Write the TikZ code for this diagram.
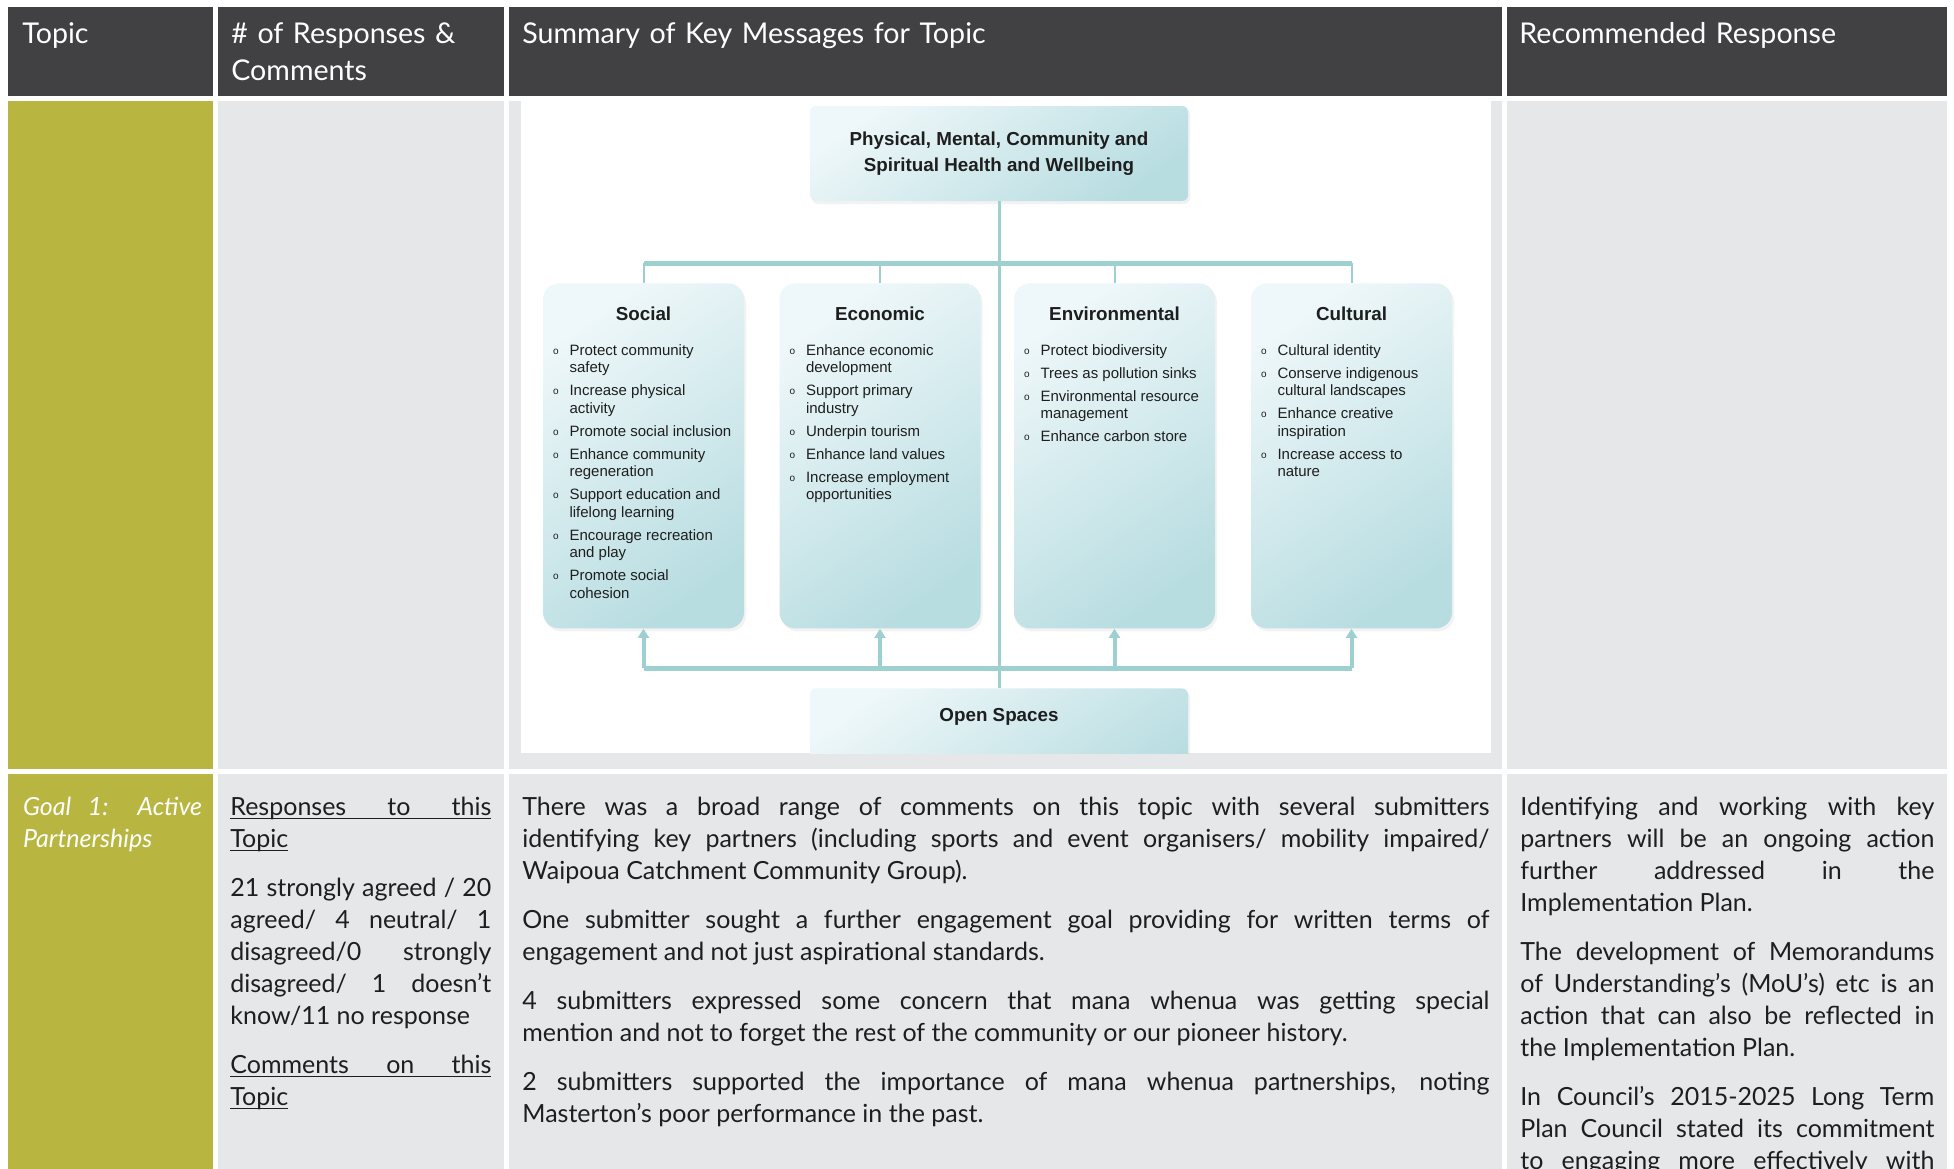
\documentclass[tikz,border=0pt]{standalone}
\usepackage{fontspec}
\setmainfont{Lato}
\newfontfamily\diagfont{Liberation Sans}
\usetikzlibrary{arrows.meta,shadows}

\definecolor{headgray}{RGB}{65,64,66}
\definecolor{goalgreen}{RGB}{184,182,65}
\definecolor{cellgray}{RGB}{230,231,232}
\definecolor{linkteal}{RGB}{158,208,210}
\definecolor{boxlight}{RGB}{238,247,249}
\definecolor{boxdark}{RGB}{184,221,225}
\definecolor{ink}{RGB}{30,30,30}

\newcommand\pskip{\par\vspace{8.5pt}}
\newcommand\ulfull[1]{\makebox[0pt][l]{\rule[-2.2pt]{\linewidth}{0.7pt}}\makebox[\linewidth][s]{#1}}
\newcommand\ulword[1]{\setbox0\hbox{#1}\makebox[0pt][l]{\rule[-2.2pt]{\wd0}{0.7pt}}\box0}
\newcommand\catitem[1]{\par\noindent\hangindent=8.25pt\hangafter=1\makebox[8.25pt][l]{\raisebox{0.6pt}{\fontsize{5}{5}\selectfont o}}#1}
\newcommand\catbody[2]{\parbox[b][172.5pt][t]{90.5pt}{\fontsize{7.5}{8.75}\selectfont\parskip=2.75pt
  \centering\rule{0pt}{18.5pt}{\fontsize{9.4}{8.75}\selectfont\bfseries #1}\par
  \vspace{6pt}\raggedright #2}}

\tikzset{
  headtext/.style={anchor=base west, inner sep=0pt, text=white, align=left,
    font=\fontsize{14.3}{18.5}\selectfont},
  bodytext/.style={anchor=base west, inner sep=0pt, text=ink, align=justify,
    font=\fontsize{12.5}{16}\selectfont},
  topbox/.style={rounded corners=3pt, top color=boxlight, bottom color=boxdark, shading angle=35,
    minimum width=189pt, minimum height=47.5pt, align=center, text=ink,
    font=\diagfont\bfseries\fontsize{9.4}{13}\selectfont,
    drop shadow={opacity=0.10, shadow xshift=1pt, shadow yshift=-1.5pt}},
  catbox/.style={anchor=north, rounded corners=8pt, top color=boxlight, bottom color=boxdark, shading angle=35,
    inner xsep=5pt, inner ysep=0pt, minimum width=100.5pt, text=ink, font=\diagfont,
    drop shadow={opacity=0.10, shadow xshift=1pt, shadow yshift=-1.5pt}},
  link/.style={draw=linkteal, line width=2.5pt},
  stub/.style={draw=linkteal, line width=1pt},
  uparrow/.style={draw=linkteal, line width=2pt, -{Triangle[width=5.5pt,length=4.5pt]}},
}

\begin{document}
\begin{tikzpicture}[x=0.5pt,y=-0.5pt]
\useasboundingbox (0,0) rectangle (1954,1168);
\clip (0,0) rectangle (1954,1168);

% header row
\fill[headgray] (7.5,7) rectangle (213,96);
\fill[headgray] (218,7) rectangle (503.5,96);
\fill[headgray] (508.5,7) rectangle (1502,96);
\fill[headgray] (1507,7) rectangle (1947,96);

% row with the diagram
\fill[goalgreen] (7.5,101) rectangle (213,769);
\fill[cellgray] (218,101) rectangle (503.5,769);
\fill[cellgray] (508.5,101) rectangle (1502,769);
\fill[cellgray] (1507,101) rectangle (1947,769);
\fill[white] (521,101) rectangle (1491,753);

% row of goal 1
\fill[goalgreen] (7.5,774) rectangle (213,1180);
\fill[cellgray] (218,774) rectangle (503.5,1180);
\fill[cellgray] (508.5,774) rectangle (1502,1180);
\fill[cellgray] (1507,774) rectangle (1947,1180);

% diagram
\begin{scope}
\clip (521,101) rectangle (1491,753);
\node[topbox] (health) at (999,153.5) {Physical, Mental, Community and\\Spiritual Health and Wellbeing};

\node[catbox] (social) at (643.5,283) {\catbody{Social}{%
  \catitem{Protect community\newline safety}
  \catitem{Increase physical\newline activity}
  \catitem{Promote social inclusion}
  \catitem{Enhance community\newline regeneration}
  \catitem{Support education and\newline lifelong learning}
  \catitem{Encourage recreation\newline and play}
  \catitem{Promote social\newline cohesion}}};
\node[catbox] (economic) at (880,283) {\catbody{Economic}{%
  \catitem{Enhance economic\newline development}
  \catitem{Support primary\newline industry}
  \catitem{Underpin tourism}
  \catitem{Enhance land values}
  \catitem{Increase employment\newline opportunities}}};
\node[catbox] (environmental) at (1114.5,283) {\catbody{Environmental}{%
  \catitem{Protect biodiversity}
  \catitem{Trees as pollution sinks}
  \catitem{Environmental resource\newline management}
  \catitem{Enhance carbon store}}};
\node[catbox] (cultural) at (1351.5,283) {\catbody{Cultural}{%
  \catitem{Cultural identity}
  \catitem{Conserve indigenous\newline cultural landscapes}
  \catitem{Enhance creative\newline inspiration}
  \catitem{Increase access to\newline nature}}};

\node[topbox, anchor=north, inner ysep=0pt, text height=16.5pt, text depth=40pt] (open) at (999,688) {Open Spaces};

\coordinate (upbar) at (999,263);
\coordinate (lowbar) at (999,668);

\draw[link, line width=1.5pt] (health.south) -- (open.north);
\draw[link] (social.north |- upbar) -- (cultural.north |- upbar);
\draw[stub] (social.north |- upbar) -- (social.north);
\draw[stub] (economic.north |- upbar) -- (economic.north);
\draw[stub] (environmental.north |- upbar) -- (environmental.north);
\draw[stub] (cultural.north |- upbar) -- (cultural.north);

\draw[link] (social.south |- lowbar) -- (cultural.south |- lowbar);
\draw[uparrow] (social.south |- lowbar) -- (social.south);
\draw[uparrow] (economic.south |- lowbar) -- (economic.south);
\draw[uparrow] (environmental.south |- lowbar) -- (environmental.south);
\draw[uparrow] (cultural.south |- lowbar) -- (cultural.south);
\end{scope}

% header texts
\node[headtext, text width=90pt] (hdtopic) at (22,43) {Topic};
\node[headtext, text width=140pt] (hdcount) at (231,43) {\# of Responses \&\\Comments};
\node[headtext, text width=480pt] (hdsummary) at (522,43) {Summary of Key Messages for Topic};
\node[headtext, text width=210pt] (hdresponse) at (1519,43) {Recommended Response};

% goal 1 texts
\node[bodytext, text=white, font=\fontsize{12.5}{16}\selectfont\itshape, text width=89.5pt] (goal) at (22.7,815)
  {Goal 1: Active\linebreak Partnerships};
\node[bodytext, text width=130.5pt] (counts) at (230,815)
  {\noindent\ulfull{Responses to this}\\\ulword{Topic}\pskip
   21 strongly agreed / 20\linebreak agreed/ 4 neutral/ 1\linebreak disagreed/0 strongly\linebreak
   disagreed/ 1 doesn’t\linebreak know/11 no response\pskip
   \noindent\ulfull{Comments on this}\\\ulword{Topic}};
\node[bodytext, text width=483.5pt] (summary) at (522,815)
  {There was a broad range of comments on this topic with several submitters\linebreak
   identifying key partners (including sports and event organisers/ mobility impaired/\linebreak
   Waipoua Catchment Community Group).\pskip
   One submitter sought a further engagement goal providing for written terms of\linebreak
   engagement and not just aspirational standards.\pskip
   4 submitters expressed some concern that mana whenua was getting special\linebreak
   mention and not to forget the rest of the community or our pioneer history.\pskip
   2 submitters supported the importance of mana whenua partnerships, noting\linebreak
   Masterton’s poor performance in the past.};
\node[bodytext, text width=207pt] (response) at (1520,815)
  {Identifying and working with key\linebreak partners will be an ongoing action\linebreak
   further addressed in the\linebreak Implementation Plan.\pskip
   The development of Memorandums\linebreak of Understanding’s (MoU’s) etc is an\linebreak
   action that can also be reflected in\linebreak the Implementation Plan.\pskip
   In Council’s 2015-2025 Long Term\linebreak Plan Council stated its commitment\linebreak
   to engaging more effectively with\linebreak\mbox{}};
\end{tikzpicture}
\end{document}
